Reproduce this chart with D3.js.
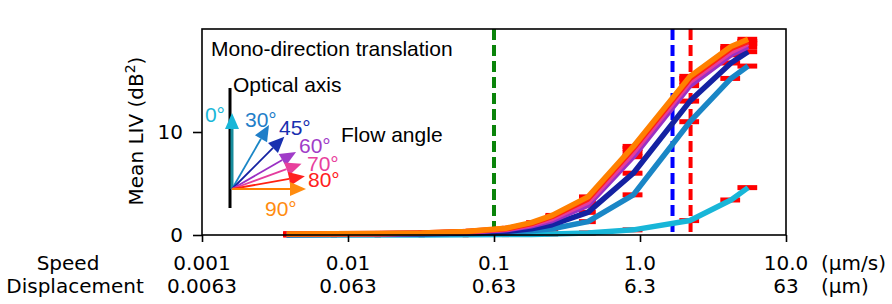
<!DOCTYPE html>
<html lang="en">
<head>
  <meta charset="UTF-8" />
  <title>Mean LIV vs speed</title>
  <script src="https://d3js.org/d3.v7.min.js"></script>
  <style>
    body {
      margin: 0;
      background: white;
    }
    svg {
      display: block;
    }
    text.tick-label {
      font-family: "DejaVu Sans", sans-serif;
      font-size: 20px;
      fill: black;
    }
    text.inset {
      font-family: "Liberation Sans", Arial, sans-serif;
      font-size: 21px;
    }
  </style>
</head>
<body>
  <svg id="chart" width="892" height="304"></svg>

  <script>
    // speeds (um/s) of the measured points and their spread
    const speeds   = [0.0038, 0.008, 0.016, 0.032, 0.064, 0.12, 0.18, 0.25, 0.44, 0.9, 2.2, 4.2, 5.5];
    const speedErr = [0.0002, 0.0004, 0.0008, 0.0016, 0.003, 0.007, 0.014, 0.025, 0.058, 0.14, 0.34, 0.65, 0.85];

    const angles = [0, 30, 45, 60, 70, 80, 90];
    const liv0  = [0.0, 0.0, 0.0, 0.01, 0.02, 0.04, 0.06, 0.1, 0.2, 0.5, 1.4, 3.4, 4.6];
    const liv30 = [0.03, 0.05, 0.07, 0.09, 0.13, 0.22, 0.4, 0.6, 1.3, 3.9, 11.0, 15.2, 16.4];
    const liv45 = [0.05, 0.07, 0.1, 0.13, 0.2, 0.35, 0.6, 1.0, 2.2, 6.0, 13.0, 16.7, 17.8];
    const liv60 = [0.08, 0.09, 0.12, 0.17, 0.28, 0.5, 0.9, 1.4, 2.9, 7.6, 14.5, 17.5, 18.3];
    const liv70 = [0.09, 0.1, 0.13, 0.18, 0.3, 0.55, 1.0, 1.6, 3.2, 8.0, 14.9, 17.8, 18.6];
    const liv80 = [0.1, 0.11, 0.14, 0.19, 0.33, 0.6, 1.1, 1.8, 3.5, 8.4, 15.2, 18.1, 18.8];
    const liv90 = [0.1, 0.12, 0.15, 0.2, 0.35, 0.65, 1.2, 1.9, 3.7, 8.6, 15.4, 18.3, 19.0];
    const livSeries = [liv0, liv30, liv45, liv60, liv70, liv80, liv90];

    const angleColors = ["#18b6d8", "#1a86c6", "#1422a2", "#9a30c4", "#e43c9e", "#ff2212", "#ff8000"];
    const labelColors = ["#18b6d8", "#1f7ec8", "#1830b0", "#a03cc8", "#e8409c", "#ff2020", "#ff8c10"];

    const speedTicks = [0.001, 0.01, 0.1, 1.0, 10.0];
    const speedTickLabels = ["0.001", "0.01", "0.1", "1.0", "10.0"];
    const dispTickLabels = ["0.0063", "0.063", "0.63", "6.3", "63"];
    const livTicks = [0, 10];

    const thresholds = [0.1, 1.67, 2.22];
    const thresholdColors = ["#0a840a", "#0000ff", "#ff0000"];

    const svg = d3.select("#chart");
    const plotLeft = 202, plotRight = 786, plotTop = 29, plotBottom = 235;

    const x = d3.scaleLog().domain([0.001, 10]).range([plotLeft, plotRight]);
    const y = d3.scaleLinear().domain([0, 20]).range([plotBottom, plotTop]);

    // threshold lines
    svg.append("g")
      .selectAll("line")
      .data(thresholds)
      .join("line")
      .attr("x1", d => x(d))
      .attr("x2", d => x(d))
      .attr("y1", y(20))
      .attr("y2", y(0))
      .attr("stroke", (d, i) => thresholdColors[i])
      .attr("stroke-width", 4)
      .attr("stroke-dasharray", "11,5");

    // horizontal error bars for every point
    const barData = [];
    livSeries.forEach(series => {
      series.forEach((v, i) => barData.push({ s: speeds[i], e: speedErr[i], v: v }));
    });
    svg.append("g")
      .selectAll("line")
      .data(barData)
      .join("line")
      .attr("x1", d => x(d.s - d.e))
      .attr("x2", d => x(d.s + d.e))
      .attr("y1", d => y(d.v))
      .attr("y2", d => y(d.v))
      .attr("stroke", "#ff0000")
      .attr("stroke-width", 5);

    // curves
    const line = d3.line()
      .x((d, i) => x(speeds[i]))
      .y(d => y(d));

    svg.append("g")
      .attr("fill", "none")
      .selectAll("path")
      .data(livSeries)
      .join("path")
      .attr("d", line)
      .attr("stroke", (d, i) => angleColors[i])
      .attr("stroke-width", 5.5)
      .attr("stroke-linejoin", "round");

    // frame
    svg.append("rect")
      .attr("x", plotLeft)
      .attr("y", plotTop)
      .attr("width", plotRight - plotLeft)
      .attr("height", plotBottom - plotTop)
      .attr("fill", "none")
      .attr("stroke", "black")
      .attr("stroke-width", 1.6);

    // y axis
    const yAxis = svg.append("g")
      .attr("transform", `translate(${plotLeft},0)`)
      .call(d3.axisLeft(y).tickValues(livTicks).tickSize(9).tickPadding(10));
    yAxis.select(".domain").remove();
    yAxis.selectAll(".tick line").attr("stroke-width", 1.6);
    yAxis.attr("font-size", null).attr("font-family", null);
    yAxis.selectAll(".tick text").attr("class", "tick-label");

    const yLabel = svg.append("text")
      .attr("class", "tick-label")
      .attr("transform", "translate(143,131) rotate(-90)")
      .attr("text-anchor", "middle");
    yLabel.append("tspan").text("Mean LIV (dB");
    yLabel.append("tspan").attr("font-size", 14).attr("dy", -8).text("2");
    yLabel.append("tspan").attr("dy", 8).text(")");

    // x axis ticks and two label rows
    const xAxis = svg.append("g")
      .attr("transform", `translate(0,${plotBottom})`)
      .call(d3.axisBottom(x).tickValues(speedTicks).tickSize(7).tickFormat(""));
    xAxis.select(".domain").remove();
    xAxis.selectAll(".tick line").attr("stroke-width", 1.6);

    svg.append("g")
      .selectAll("text")
      .data(speedTicks)
      .join("text")
      .attr("class", "tick-label")
      .attr("x", d => x(d))
      .attr("y", 270)
      .attr("text-anchor", "middle")
      .text((d, i) => speedTickLabels[i]);

    svg.append("g")
      .selectAll("text")
      .data(speedTicks)
      .join("text")
      .attr("class", "tick-label")
      .attr("x", d => x(d))
      .attr("y", 293)
      .attr("text-anchor", "middle")
      .text((d, i) => dispTickLabels[i]);

    svg.append("text").attr("class", "tick-label")
      .attr("x", 68).attr("y", 270).attr("text-anchor", "middle").text("Speed");
    svg.append("text").attr("class", "tick-label")
      .attr("x", 75).attr("y", 293).attr("text-anchor", "middle").text("Displacement");
    svg.append("text").attr("class", "tick-label")
      .attr("x", 821).attr("y", 270).text("(\u00b5m/s)");
    svg.append("text").attr("class", "tick-label")
      .attr("x", 821).attr("y", 293).text("(\u00b5m)");

    // inset: titles and flow-angle arrows
    svg.append("text").attr("class", "inset")
      .attr("x", 211).attr("y", 56).text("Mono-direction translation");
    svg.append("text").attr("class", "inset")
      .attr("x", 233).attr("y", 92).text("Optical axis");
    svg.append("text").attr("class", "inset")
      .attr("x", 341).attr("y", 142).text("Flow angle");

    svg.append("line")
      .attr("x1", 230).attr("x2", 230)
      .attr("y1", 88).attr("y2", 208)
      .attr("stroke", "black")
      .attr("stroke-width", 3);

    const ox = 232, oy = 189, arrowLen = 74, headLen = 16, headHalf = 7;
    const labelPos = [[225, 122, "end"], [245, 127, "start"], [279, 135, "start"], [299, 153, "start"],
                      [307, 171, "start"], [308, 187, "start"], [265, 216, "start"]];

    const arrows = svg.append("g");
    angles.forEach((a, i) => {
      const r = a * Math.PI / 180;
      const ux = Math.sin(r), uy = -Math.cos(r);
      const len = a === 0 ? 76 : arrowLen;
      const tx = ox + ux * len, ty = oy + uy * len;
      const bx = tx - ux * headLen, by = ty - uy * headLen;
      arrows.append("line")
        .attr("x1", ox).attr("y1", oy)
        .attr("x2", bx).attr("y2", by)
        .attr("stroke", a === 0 ? "#178c9c" : angleColors[i])
        .attr("stroke-width", a === 0 ? 3 : 1.8);
      arrows.append("path")
        .attr("d", `M${tx},${ty}L${bx - uy * headHalf},${by + ux * headHalf}L${bx + uy * headHalf},${by - ux * headHalf}Z`)
        .attr("fill", labelColors[i]);
      arrows.append("text")
        .attr("class", "inset")
        .attr("font-size", 19)
        .attr("x", labelPos[i][0])
        .attr("y", labelPos[i][1])
        .attr("text-anchor", labelPos[i][2])
        .attr("fill", labelColors[i])
        .text(a + "\u00b0");
    });
  </script>
</body>
</html>
